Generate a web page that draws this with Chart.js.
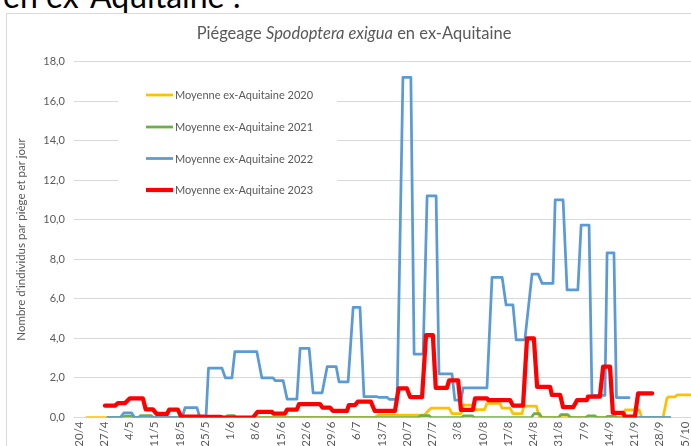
<!DOCTYPE html>
<html>
<head>
<meta charset="utf-8">
<script src="https://cdn.jsdelivr.net/npm/chart.js@4"></script>
<style>
  html, body { margin:0; padding:0; width:691px; height:446px; overflow:hidden; background:#fff; }
  #heading { position:absolute; left:3px; top:-23px; font-size:32px; line-height:38px; font-family:Lato, sans-serif; color:#000; white-space:nowrap; }
  #frame { position:absolute; left:6px; top:13px; width:800px; height:600px; border:1px solid #d9d9d9; }
  #title { position:absolute; left:0; width:708px; top:24px; text-align:center; font-size:16.5px; line-height:19px; font-family:Lato, sans-serif; color:#595959; }
  #wrap { position:absolute; left:0; top:0; width:730px; height:470px; }
</style>
</head>
<body>
<div id="heading">en ex-Aquitaine :</div>
<div id="frame"></div>
<div id="wrap"><canvas id="chart"></canvas></div>
<div id="title">Piégeage <i>Spodoptera exigua</i> en ex-Aquitaine</div>
<script>
// axe des dates : jour 0 = 20/4, une étiquette par semaine
const tickLabels = ['20/4','27/4','4/5','11/5','18/5','25/5','1/6','8/6','15/6','22/6','29/6','6/7','13/7',
  '20/7','27/7','3/8','10/8','17/8','24/8','31/8','7/9','14/9','21/9','28/9','5/10'];
const tickDays = tickLabels.map((_, i) => i * 7);

const seriesNames = ['Moyenne ex-Aquitaine 2020','Moyenne ex-Aquitaine 2021','Moyenne ex-Aquitaine 2022','Moyenne ex-Aquitaine 2023'];

// jours / valeurs
const days2020 = [2.2, 82, 83, 95.8, 96.6, 97.6, 102.6, 103.4, 105.9, 106.5, 109.2, 109.8, 112.4, 113.1, 116.7, 117.3, 119.5, 120.3, 122.8, 123.3, 126.8, 127.6, 150.6, 151.4, 155.3, 156, 161.9, 163.0, 163.4, 165.2, 165.8, 178];
const values2020 = [0, 0, 0.12, 0.12, 0.3, 0.47, 0.47, 0.2, 0.2, 0.63, 0.63, 0.4, 0.4, 0.72, 0.72, 0.47, 0.47, 0.2, 0.2, 0.58, 0.58, 0, 0, 0.38, 0.38, 0, 0, 0.97, 1.04, 1.04, 1.14, 1.14];

const days2021 = [8, 12.2, 12.8, 14.5, 15.2, 16.5, 17.1, 20, 20.6, 40.5, 41.2, 43, 43.6, 94, 94.8, 97, 97.6, 106, 106.6, 109, 109.6, 125.4, 126.2, 127.6, 128.3, 133, 133.6, 135.5, 136.2, 140.5, 141.1, 143, 143.6, 146, 146.6, 148.5, 149.2, 163.8];
const values2021 = [0, 0, 0.07, 0.07, 0, 0, 0.1, 0.1, 0, 0, 0.1, 0.1, 0, 0, 0.1, 0.1, 0, 0, 0.08, 0.08, 0, 0, 0.2, 0.2, 0, 0, 0.15, 0.15, 0, 0, 0.08, 0.08, 0, 0, 0.06, 0.06, 0, 0];

const days2022 = [8, 11.5, 12.4, 14.6, 15.4, 28.6, 29.4, 32.7, 33.5, 35.2, 35.9, 39.6, 40.6, 42.4, 43.2, 49.3, 50.7, 53.8, 54.4, 56.6, 57.7, 60.4, 61.3, 63.8, 64.9, 67.4, 68.8, 71.3, 72.1, 74.6, 76.0, 77.9, 79.0, 82.6, 83.2, 85.4, 86.0, 88.2, 89.8, 92.0, 92.9, 95.4, 96.5, 99.0, 99.8, 103.4, 104.2, 105.9, 106.5, 113.1, 114.5, 117.3, 118.4, 120.3, 121.2, 123.6, 125.6, 127.3, 128.4, 131.4, 132.0, 134.2, 135.3, 138.3, 139.2, 141.4, 142.2, 145.8, 146.4, 148.3, 149.0, 152.5, 153.5, 154.5, 163.8];
const values2022 = [0, 0, 0.23, 0.23, 0, 0, 0.5, 0.5, 0, 0, 2.5, 2.5, 2.0, 2.0, 3.33, 3.33, 2.0, 2.0, 1.86, 1.86, 0.93, 0.93, 3.5, 3.5, 1.25, 1.25, 2.57, 2.57, 1.8, 1.8, 5.57, 5.57, 1.05, 1.05, 1.02, 1.02, 0.92, 0.92, 17.2, 17.2, 3.2, 3.2, 11.2, 11.2, 2.2, 2.2, 0.88, 0.88, 1.5, 1.5, 7.09, 7.09, 5.69, 5.69, 3.92, 3.92, 7.25, 7.25, 6.78, 6.78, 11.0, 11.0, 6.45, 6.45, 9.73, 9.73, 1.12, 1.12, 8.33, 8.33, 1.0, 1.0, null, 0, 0];

const days2023 = [7.2, 10.0, 10.8, 12.8, 14.1, 17.7, 18.5, 20.5, 21.5, 24.4, 25.0, 27.4, 28.3, 34.4, 35, 39.1, 40, 48.2, 49.5, 53.5, 53.9, 57.1, 57.7, 60.4, 61.0, 66.8, 67.5, 69.6, 70.4, 74.3, 74.8, 76.5, 77.3, 80.9, 82.0, 87.6, 88.6, 90.9, 91.8, 95.1, 96.2, 98.1, 98.9, 102.0, 102.6, 105.1, 105.9, 109.2, 109.8, 113.1, 113.5, 119.5, 120.3, 123.1, 124.2, 126.1, 127.0, 130.6, 131.1, 133.4, 134.2, 137.0, 138.1, 140.8, 141.1, 144.4, 145.3, 147.2, 148.0, 150.8, 151.4, 154.1, 155.0, 158.9];
const values2023 = [0.6, 0.6, 0.73, 0.73, 0.97, 0.97, 0.41, 0.41, 0.18, 0.18, 0.4, 0.4, 0.05, 0.05, 0.03, 0.03, 0, 0, 0.28, 0.28, 0.2, 0.2, 0.4, 0.4, 0.68, 0.68, 0.5, 0.5, 0.33, 0.33, 0.63, 0.63, 0.8, 0.8, 0.33, 0.33, 1.47, 1.47, 1.03, 1.03, 4.17, 4.17, 1.5, 1.5, 1.88, 1.88, 0.38, 0.38, 0.97, 0.97, 0.88, 0.88, 0.6, 0.6, 4.0, 4.0, 1.55, 1.55, 1.14, 1.14, 0.52, 0.52, 0.88, 0.88, 1.05, 1.05, 2.57, 2.57, 0.24, 0.24, 0.04, 0.04, 1.22, 1.22];

const colors = ['#FFC000', '#70AD47', '#5B9BD5', '#FF0000'];
const widths = [2.75, 2.75, 2.75, 4.25];

function pts(days, values) {
  return days.map((d, i) => ({ x: d, y: values[i] }));
}

const fmt = v => v.toFixed(1).replace('.', ',');
const font = 'Lato, sans-serif';

// légende dans la zone de tracé, sur fond blanc
const boxLegend = {
  id: 'boxLegend',
  beforeDatasetsDraw(chart) {
    const ctx = chart.ctx;
    ctx.save();
    ctx.fillStyle = '#fff';
    ctx.fillRect(118, 70, 219, 140);
    ctx.font = '11px ' + font;
    ctx.textBaseline = 'middle';
    [95, 127, 158.5, 190].forEach((y, i) => {
      ctx.strokeStyle = colors[i];
      ctx.lineWidth = widths[i];
      ctx.beginPath();
      ctx.moveTo(146, y);
      ctx.lineTo(173, y);
      ctx.stroke();
      ctx.fillStyle = '#595959';
      ctx.fillText(seriesNames[i], 175, y + 0.5);
    });
    ctx.restore();
  }
};

const datasets = [
  { days: days2020, values: values2020 },
  { days: days2021, values: values2021 },
  { days: days2022, values: values2022 },
  { days: days2023, values: values2023 }
].map((s, i) => ({
  label: seriesNames[i],
  data: pts(s.days, s.values),
  borderColor: colors[i],
  backgroundColor: colors[i],
  borderWidth: widths[i],
  pointRadius: 0,
  tension: 0,
  spanGaps: false,
  borderJoinStyle: 'round',
  borderCapStyle: 'round',
  order: 4 - i
}));

new Chart(document.getElementById('chart'), {
  type: 'line',
  data: { datasets },
  options: {
    responsive: true,
    maintainAspectRatio: false,
    devicePixelRatio: 1,
    animation: false,
    layout: { padding: { top: 61.5, right: 10, left: 0, bottom: 0 } },
    plugins: { legend: { display: false }, tooltip: { enabled: false } },
    scales: {
      x: {
        type: 'linear',
        min: -1.386,
        max: 177.7,
        afterBuildTicks: s => { s.ticks = tickDays.map(v => ({ value: v })); },
        afterFit: s => { s.height = 52.5; },
        grid: { display: false, drawTicks: false },
        border: { display: true, color: '#d9d9d9', width: 1 },
        ticks: {
          autoSkip: false,
          minRotation: 90,
          maxRotation: 90,
          padding: 4,
          color: '#595959',
          font: { family: font, size: 11.5 },
          callback: (v, i) => tickLabels[i]
        }
      },
      y: {
        min: 0,
        max: 18,
        afterFit: s => { s.width = 74; },
        grid: { color: '#d9d9d9', lineWidth: 1, drawTicks: false },
        border: { display: false },
        ticks: {
          stepSize: 2,
          padding: 9,
          color: '#595959',
          font: { family: font, size: 11 },
          callback: v => fmt(v)
        },
        title: {
          display: true,
          text: "Nombre d'individus par piège et par jour",
          color: '#595959',
          font: { family: font, size: 11.5 },
          padding: { top: 14, bottom: 0 }
        }
      }
    }
  },
  plugins: [boxLegend]
});
</script>
</body>
</html>
